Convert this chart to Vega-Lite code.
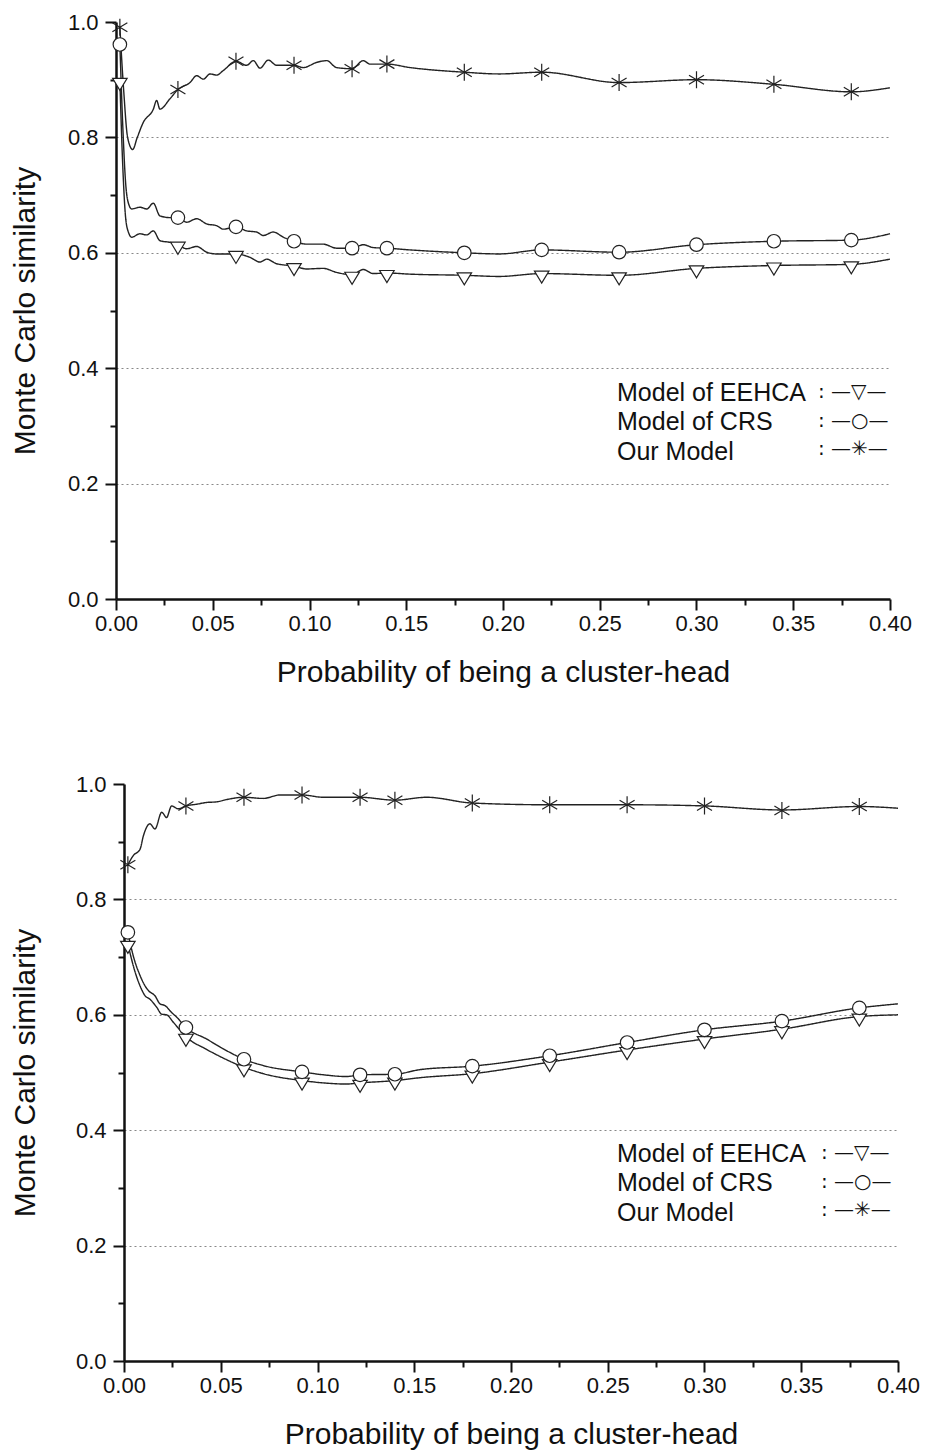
{
  "$schema": "https://vega.github.io/schema/vega-lite/v6.json",
  "background": "white",
  "padding": {"left": 10, "top": 11, "right": 5, "bottom": 3},
  "columns": 1,
  "spacing": 86,
  "config": {
    "view": {"stroke": null},
    "font": "Liberation Sans",
    "axis": {
      "labelFont": "Liberation Sans", "labelFontSize": 22, "labelColor": "#111",
      "titleFont": "Liberation Sans", "titleFontSize": 30, "titleFontWeight": "normal", "titleColor": "#111",
      "domainColor": "#111", "domainWidth": 2.5, "tickColor": "#111", "tickWidth": 2,
      "labelPadding": 4, "labelFlush": false, "labelOverlap": false
    },
    "legend": {
      "title": null, "orient": "none", "padding": 0,
      "labelFont": "Liberation Sans", "labelFontSize": 25, "labelColor": "#111", "labelLimit": 0,
      "symbolOffset": 0, "symbolSize": 100, "rowPadding": 3.5, "labelOffset": 0, "symbolOpacity": 0
    }
  },
  "resolve": {"scale": {"shape": "independent", "strokeDash": "independent"}, "legend": {"shape": "independent", "strokeDash": "independent"}},
  "datasets": {
    "curves": [
      {"panel":"top","model":"Model of EEHCA","p":0.002,"sim":0.898},
      {"panel":"top","model":"Model of EEHCA","p":0.0035,"sim":0.75},
      {"panel":"top","model":"Model of EEHCA","p":0.005,"sim":0.66},
      {"panel":"top","model":"Model of EEHCA","p":0.0065,"sim":0.635},
      {"panel":"top","model":"Model of EEHCA","p":0.0081,"sim":0.627},
      {"panel":"top","model":"Model of EEHCA","p":0.0124,"sim":0.633},
      {"panel":"top","model":"Model of EEHCA","p":0.0159,"sim":0.631},
      {"panel":"top","model":"Model of EEHCA","p":0.0193,"sim":0.638},
      {"panel":"top","model":"Model of EEHCA","p":0.0227,"sim":0.621},
      {"panel":"top","model":"Model of EEHCA","p":0.0279,"sim":0.618},
      {"panel":"top","model":"Model of EEHCA","p":0.032,"sim":0.614},
      {"panel":"top","model":"Model of EEHCA","p":0.0365,"sim":0.607},
      {"panel":"top","model":"Model of EEHCA","p":0.0417,"sim":0.611},
      {"panel":"top","model":"Model of EEHCA","p":0.0469,"sim":0.601},
      {"panel":"top","model":"Model of EEHCA","p":0.052,"sim":0.598},
      {"panel":"top","model":"Model of EEHCA","p":0.062,"sim":0.598},
      {"panel":"top","model":"Model of EEHCA","p":0.0693,"sim":0.592},
      {"panel":"top","model":"Model of EEHCA","p":0.0744,"sim":0.584},
      {"panel":"top","model":"Model of EEHCA","p":0.0779,"sim":0.589},
      {"panel":"top","model":"Model of EEHCA","p":0.083,"sim":0.581},
      {"panel":"top","model":"Model of EEHCA","p":0.092,"sim":0.577},
      {"panel":"top","model":"Model of EEHCA","p":0.0986,"sim":0.572},
      {"panel":"top","model":"Model of EEHCA","p":0.1071,"sim":0.573},
      {"panel":"top","model":"Model of EEHCA","p":0.114,"sim":0.566},
      {"panel":"top","model":"Model of EEHCA","p":0.122,"sim":0.562},
      {"panel":"top","model":"Model of EEHCA","p":0.1278,"sim":0.571},
      {"panel":"top","model":"Model of EEHCA","p":0.133,"sim":0.564},
      {"panel":"top","model":"Model of EEHCA","p":0.14,"sim":0.565},
      {"panel":"top","model":"Model of EEHCA","p":0.152,"sim":0.563},
      {"panel":"top","model":"Model of EEHCA","p":0.18,"sim":0.561},
      {"panel":"top","model":"Model of EEHCA","p":0.198,"sim":0.559},
      {"panel":"top","model":"Model of EEHCA","p":0.22,"sim":0.564},
      {"panel":"top","model":"Model of EEHCA","p":0.26,"sim":0.561},
      {"panel":"top","model":"Model of EEHCA","p":0.30,"sim":0.573},
      {"panel":"top","model":"Model of EEHCA","p":0.34,"sim":0.578},
      {"panel":"top","model":"Model of EEHCA","p":0.38,"sim":0.580},
      {"panel":"top","model":"Model of EEHCA","p":0.40,"sim":0.589},

      {"panel":"top","model":"Model of CRS","p":0.002,"sim":0.961},
      {"panel":"top","model":"Model of CRS","p":0.0035,"sim":0.82},
      {"panel":"top","model":"Model of CRS","p":0.005,"sim":0.72},
      {"panel":"top","model":"Model of CRS","p":0.0065,"sim":0.685},
      {"panel":"top","model":"Model of CRS","p":0.0081,"sim":0.676},
      {"panel":"top","model":"Model of CRS","p":0.0124,"sim":0.679},
      {"panel":"top","model":"Model of CRS","p":0.0159,"sim":0.676},
      {"panel":"top","model":"Model of CRS","p":0.0193,"sim":0.686},
      {"panel":"top","model":"Model of CRS","p":0.0227,"sim":0.664},
      {"panel":"top","model":"Model of CRS","p":0.0279,"sim":0.661},
      {"panel":"top","model":"Model of CRS","p":0.032,"sim":0.661},
      {"panel":"top","model":"Model of CRS","p":0.0365,"sim":0.653},
      {"panel":"top","model":"Model of CRS","p":0.0417,"sim":0.659},
      {"panel":"top","model":"Model of CRS","p":0.0469,"sim":0.650},
      {"panel":"top","model":"Model of CRS","p":0.052,"sim":0.647},
      {"panel":"top","model":"Model of CRS","p":0.0555,"sim":0.641},
      {"panel":"top","model":"Model of CRS","p":0.062,"sim":0.645},
      {"panel":"top","model":"Model of CRS","p":0.0675,"sim":0.638},
      {"panel":"top","model":"Model of CRS","p":0.0727,"sim":0.636},
      {"panel":"top","model":"Model of CRS","p":0.0761,"sim":0.630},
      {"panel":"top","model":"Model of CRS","p":0.0813,"sim":0.636},
      {"panel":"top","model":"Model of CRS","p":0.0865,"sim":0.627},
      {"panel":"top","model":"Model of CRS","p":0.092,"sim":0.620},
      {"panel":"top","model":"Model of CRS","p":0.0986,"sim":0.615},
      {"panel":"top","model":"Model of CRS","p":0.1071,"sim":0.615},
      {"panel":"top","model":"Model of CRS","p":0.114,"sim":0.608},
      {"panel":"top","model":"Model of CRS","p":0.122,"sim":0.608},
      {"panel":"top","model":"Model of CRS","p":0.1278,"sim":0.614},
      {"panel":"top","model":"Model of CRS","p":0.133,"sim":0.609},
      {"panel":"top","model":"Model of CRS","p":0.14,"sim":0.608},
      {"panel":"top","model":"Model of CRS","p":0.152,"sim":0.605},
      {"panel":"top","model":"Model of CRS","p":0.18,"sim":0.600},
      {"panel":"top","model":"Model of CRS","p":0.198,"sim":0.598},
      {"panel":"top","model":"Model of CRS","p":0.22,"sim":0.605},
      {"panel":"top","model":"Model of CRS","p":0.26,"sim":0.601},
      {"panel":"top","model":"Model of CRS","p":0.30,"sim":0.614},
      {"panel":"top","model":"Model of CRS","p":0.34,"sim":0.620},
      {"panel":"top","model":"Model of CRS","p":0.38,"sim":0.622},
      {"panel":"top","model":"Model of CRS","p":0.40,"sim":0.633},

      {"panel":"top","model":"Our Model","p":0.002,"sim":0.991},
      {"panel":"top","model":"Our Model","p":0.004,"sim":0.88},
      {"panel":"top","model":"Our Model","p":0.006,"sim":0.80},
      {"panel":"top","model":"Our Model","p":0.0086,"sim":0.779},
      {"panel":"top","model":"Our Model","p":0.011,"sim":0.800},
      {"panel":"top","model":"Our Model","p":0.0141,"sim":0.826},
      {"panel":"top","model":"Our Model","p":0.0193,"sim":0.849},
      {"panel":"top","model":"Our Model","p":0.021,"sim":0.864},
      {"panel":"top","model":"Our Model","p":0.0227,"sim":0.849},
      {"panel":"top","model":"Our Model","p":0.0279,"sim":0.867},
      {"panel":"top","model":"Our Model","p":0.032,"sim":0.883},
      {"panel":"top","model":"Our Model","p":0.0382,"sim":0.895},
      {"panel":"top","model":"Our Model","p":0.0417,"sim":0.907},
      {"panel":"top","model":"Our Model","p":0.0451,"sim":0.901},
      {"panel":"top","model":"Our Model","p":0.0486,"sim":0.910},
      {"panel":"top","model":"Our Model","p":0.052,"sim":0.908},
      {"panel":"top","model":"Our Model","p":0.0555,"sim":0.916},
      {"panel":"top","model":"Our Model","p":0.062,"sim":0.932},
      {"panel":"top","model":"Our Model","p":0.0675,"sim":0.925},
      {"panel":"top","model":"Our Model","p":0.071,"sim":0.933},
      {"panel":"top","model":"Our Model","p":0.0744,"sim":0.920},
      {"panel":"top","model":"Our Model","p":0.0787,"sim":0.934},
      {"panel":"top","model":"Our Model","p":0.083,"sim":0.925},
      {"panel":"top","model":"Our Model","p":0.092,"sim":0.925},
      {"panel":"top","model":"Our Model","p":0.0968,"sim":0.921},
      {"panel":"top","model":"Our Model","p":0.1037,"sim":0.930},
      {"panel":"top","model":"Our Model","p":0.1089,"sim":0.933},
      {"panel":"top","model":"Our Model","p":0.114,"sim":0.921},
      {"panel":"top","model":"Our Model","p":0.122,"sim":0.919},
      {"panel":"top","model":"Our Model","p":0.1278,"sim":0.933},
      {"panel":"top","model":"Our Model","p":0.1313,"sim":0.927},
      {"panel":"top","model":"Our Model","p":0.14,"sim":0.927},
      {"panel":"top","model":"Our Model","p":0.152,"sim":0.921},
      {"panel":"top","model":"Our Model","p":0.18,"sim":0.913},
      {"panel":"top","model":"Our Model","p":0.198,"sim":0.910},
      {"panel":"top","model":"Our Model","p":0.22,"sim":0.913},
      {"panel":"top","model":"Our Model","p":0.26,"sim":0.895},
      {"panel":"top","model":"Our Model","p":0.30,"sim":0.900},
      {"panel":"top","model":"Our Model","p":0.34,"sim":0.892},
      {"panel":"top","model":"Our Model","p":0.38,"sim":0.879},
      {"panel":"top","model":"Our Model","p":0.40,"sim":0.886},

      {"panel":"bottom","model":"Model of EEHCA","p":0.002,"sim":0.723},
      {"panel":"bottom","model":"Model of EEHCA","p":0.0048,"sim":0.685},
      {"panel":"bottom","model":"Model of EEHCA","p":0.0083,"sim":0.650},
      {"panel":"bottom","model":"Model of EEHCA","p":0.0109,"sim":0.633},
      {"panel":"bottom","model":"Model of EEHCA","p":0.0134,"sim":0.627},
      {"panel":"bottom","model":"Model of EEHCA","p":0.0169,"sim":0.613},
      {"panel":"bottom","model":"Model of EEHCA","p":0.0195,"sim":0.601},
      {"panel":"bottom","model":"Model of EEHCA","p":0.022,"sim":0.600},
      {"panel":"bottom","model":"Model of EEHCA","p":0.0255,"sim":0.587},
      {"panel":"bottom","model":"Model of EEHCA","p":0.032,"sim":0.562},
      {"panel":"bottom","model":"Model of EEHCA","p":0.0427,"sim":0.540},
      {"panel":"bottom","model":"Model of EEHCA","p":0.0513,"sim":0.525},
      {"panel":"bottom","model":"Model of EEHCA","p":0.062,"sim":0.509},
      {"panel":"bottom","model":"Model of EEHCA","p":0.072,"sim":0.498},
      {"panel":"bottom","model":"Model of EEHCA","p":0.092,"sim":0.486},
      {"panel":"bottom","model":"Model of EEHCA","p":0.103,"sim":0.482},
      {"panel":"bottom","model":"Model of EEHCA","p":0.115,"sim":0.480},
      {"panel":"bottom","model":"Model of EEHCA","p":0.122,"sim":0.482},
      {"panel":"bottom","model":"Model of EEHCA","p":0.14,"sim":0.486},
      {"panel":"bottom","model":"Model of EEHCA","p":0.153,"sim":0.491},
      {"panel":"bottom","model":"Model of EEHCA","p":0.18,"sim":0.498},
      {"panel":"bottom","model":"Model of EEHCA","p":0.22,"sim":0.518},
      {"panel":"bottom","model":"Model of EEHCA","p":0.26,"sim":0.539},
      {"panel":"bottom","model":"Model of EEHCA","p":0.30,"sim":0.558},
      {"panel":"bottom","model":"Model of EEHCA","p":0.34,"sim":0.575},
      {"panel":"bottom","model":"Model of EEHCA","p":0.38,"sim":0.597},
      {"panel":"bottom","model":"Model of EEHCA","p":0.40,"sim":0.600},

      {"panel":"bottom","model":"Model of CRS","p":0.002,"sim":0.743},
      {"panel":"bottom","model":"Model of CRS","p":0.0048,"sim":0.702},
      {"panel":"bottom","model":"Model of CRS","p":0.0083,"sim":0.668},
      {"panel":"bottom","model":"Model of CRS","p":0.0109,"sim":0.650},
      {"panel":"bottom","model":"Model of CRS","p":0.0126,"sim":0.642},
      {"panel":"bottom","model":"Model of CRS","p":0.016,"sim":0.633},
      {"panel":"bottom","model":"Model of CRS","p":0.0186,"sim":0.619},
      {"panel":"bottom","model":"Model of CRS","p":0.0212,"sim":0.616},
      {"panel":"bottom","model":"Model of CRS","p":0.0246,"sim":0.604},
      {"panel":"bottom","model":"Model of CRS","p":0.0272,"sim":0.596},
      {"panel":"bottom","model":"Model of CRS","p":0.032,"sim":0.578},
      {"panel":"bottom","model":"Model of CRS","p":0.0427,"sim":0.558},
      {"panel":"bottom","model":"Model of CRS","p":0.0513,"sim":0.541},
      {"panel":"bottom","model":"Model of CRS","p":0.062,"sim":0.523},
      {"panel":"bottom","model":"Model of CRS","p":0.072,"sim":0.512},
      {"panel":"bottom","model":"Model of CRS","p":0.092,"sim":0.501},
      {"panel":"bottom","model":"Model of CRS","p":0.103,"sim":0.496},
      {"panel":"bottom","model":"Model of CRS","p":0.115,"sim":0.493},
      {"panel":"bottom","model":"Model of CRS","p":0.122,"sim":0.496},
      {"panel":"bottom","model":"Model of CRS","p":0.14,"sim":0.497},
      {"panel":"bottom","model":"Model of CRS","p":0.153,"sim":0.505},
      {"panel":"bottom","model":"Model of CRS","p":0.18,"sim":0.511},
      {"panel":"bottom","model":"Model of CRS","p":0.22,"sim":0.529},
      {"panel":"bottom","model":"Model of CRS","p":0.26,"sim":0.552},
      {"panel":"bottom","model":"Model of CRS","p":0.30,"sim":0.574},
      {"panel":"bottom","model":"Model of CRS","p":0.34,"sim":0.589},
      {"panel":"bottom","model":"Model of CRS","p":0.38,"sim":0.612},
      {"panel":"bottom","model":"Model of CRS","p":0.40,"sim":0.619},

      {"panel":"bottom","model":"Our Model","p":0.002,"sim":0.860},
      {"panel":"bottom","model":"Our Model","p":0.0048,"sim":0.876},
      {"panel":"bottom","model":"Our Model","p":0.0083,"sim":0.887},
      {"panel":"bottom","model":"Our Model","p":0.010,"sim":0.910},
      {"panel":"bottom","model":"Our Model","p":0.0134,"sim":0.931},
      {"panel":"bottom","model":"Our Model","p":0.016,"sim":0.922},
      {"panel":"bottom","model":"Our Model","p":0.0195,"sim":0.951},
      {"panel":"bottom","model":"Our Model","p":0.022,"sim":0.942},
      {"panel":"bottom","model":"Our Model","p":0.0246,"sim":0.962},
      {"panel":"bottom","model":"Our Model","p":0.028,"sim":0.957},
      {"panel":"bottom","model":"Our Model","p":0.032,"sim":0.962},
      {"panel":"bottom","model":"Our Model","p":0.0376,"sim":0.965},
      {"panel":"bottom","model":"Our Model","p":0.0427,"sim":0.968},
      {"panel":"bottom","model":"Our Model","p":0.0479,"sim":0.969},
      {"panel":"bottom","model":"Our Model","p":0.053,"sim":0.973},
      {"panel":"bottom","model":"Our Model","p":0.062,"sim":0.977},
      {"panel":"bottom","model":"Our Model","p":0.072,"sim":0.975},
      {"panel":"bottom","model":"Our Model","p":0.0806,"sim":0.981},
      {"panel":"bottom","model":"Our Model","p":0.092,"sim":0.981},
      {"panel":"bottom","model":"Our Model","p":0.103,"sim":0.977},
      {"panel":"bottom","model":"Our Model","p":0.122,"sim":0.977},
      {"panel":"bottom","model":"Our Model","p":0.14,"sim":0.972},
      {"panel":"bottom","model":"Our Model","p":0.1564,"sim":0.977},
      {"panel":"bottom","model":"Our Model","p":0.18,"sim":0.967},
      {"panel":"bottom","model":"Our Model","p":0.22,"sim":0.964},
      {"panel":"bottom","model":"Our Model","p":0.26,"sim":0.964},
      {"panel":"bottom","model":"Our Model","p":0.30,"sim":0.962},
      {"panel":"bottom","model":"Our Model","p":0.34,"sim":0.955},
      {"panel":"bottom","model":"Our Model","p":0.38,"sim":0.961},
      {"panel":"bottom","model":"Our Model","p":0.40,"sim":0.958}
    ],
    "markers": [
      {"panel":"top","model":"Model of EEHCA","p":0.002,"sim":0.898},
      {"panel":"top","model":"Model of EEHCA","p":0.032,"sim":0.614},
      {"panel":"top","model":"Model of EEHCA","p":0.062,"sim":0.598},
      {"panel":"top","model":"Model of EEHCA","p":0.092,"sim":0.577},
      {"panel":"top","model":"Model of EEHCA","p":0.122,"sim":0.562},
      {"panel":"top","model":"Model of EEHCA","p":0.14,"sim":0.565},
      {"panel":"top","model":"Model of EEHCA","p":0.18,"sim":0.561},
      {"panel":"top","model":"Model of EEHCA","p":0.22,"sim":0.564},
      {"panel":"top","model":"Model of EEHCA","p":0.26,"sim":0.561},
      {"panel":"top","model":"Model of EEHCA","p":0.30,"sim":0.573},
      {"panel":"top","model":"Model of EEHCA","p":0.34,"sim":0.578},
      {"panel":"top","model":"Model of EEHCA","p":0.38,"sim":0.580},
      {"panel":"top","model":"Model of CRS","p":0.002,"sim":0.961},
      {"panel":"top","model":"Model of CRS","p":0.032,"sim":0.661},
      {"panel":"top","model":"Model of CRS","p":0.062,"sim":0.645},
      {"panel":"top","model":"Model of CRS","p":0.092,"sim":0.620},
      {"panel":"top","model":"Model of CRS","p":0.122,"sim":0.608},
      {"panel":"top","model":"Model of CRS","p":0.14,"sim":0.608},
      {"panel":"top","model":"Model of CRS","p":0.18,"sim":0.600},
      {"panel":"top","model":"Model of CRS","p":0.22,"sim":0.605},
      {"panel":"top","model":"Model of CRS","p":0.26,"sim":0.601},
      {"panel":"top","model":"Model of CRS","p":0.30,"sim":0.614},
      {"panel":"top","model":"Model of CRS","p":0.34,"sim":0.620},
      {"panel":"top","model":"Model of CRS","p":0.38,"sim":0.622},
      {"panel":"top","model":"Our Model","p":0.002,"sim":0.991},
      {"panel":"top","model":"Our Model","p":0.032,"sim":0.883},
      {"panel":"top","model":"Our Model","p":0.062,"sim":0.932},
      {"panel":"top","model":"Our Model","p":0.092,"sim":0.925},
      {"panel":"top","model":"Our Model","p":0.122,"sim":0.919},
      {"panel":"top","model":"Our Model","p":0.14,"sim":0.927},
      {"panel":"top","model":"Our Model","p":0.18,"sim":0.913},
      {"panel":"top","model":"Our Model","p":0.22,"sim":0.913},
      {"panel":"top","model":"Our Model","p":0.26,"sim":0.895},
      {"panel":"top","model":"Our Model","p":0.30,"sim":0.900},
      {"panel":"top","model":"Our Model","p":0.34,"sim":0.892},
      {"panel":"top","model":"Our Model","p":0.38,"sim":0.879},

      {"panel":"bottom","model":"Model of EEHCA","p":0.002,"sim":0.723},
      {"panel":"bottom","model":"Model of EEHCA","p":0.032,"sim":0.562},
      {"panel":"bottom","model":"Model of EEHCA","p":0.062,"sim":0.509},
      {"panel":"bottom","model":"Model of EEHCA","p":0.092,"sim":0.486},
      {"panel":"bottom","model":"Model of EEHCA","p":0.122,"sim":0.482},
      {"panel":"bottom","model":"Model of EEHCA","p":0.14,"sim":0.486},
      {"panel":"bottom","model":"Model of EEHCA","p":0.18,"sim":0.498},
      {"panel":"bottom","model":"Model of EEHCA","p":0.22,"sim":0.518},
      {"panel":"bottom","model":"Model of EEHCA","p":0.26,"sim":0.539},
      {"panel":"bottom","model":"Model of EEHCA","p":0.30,"sim":0.558},
      {"panel":"bottom","model":"Model of EEHCA","p":0.34,"sim":0.575},
      {"panel":"bottom","model":"Model of EEHCA","p":0.38,"sim":0.597},
      {"panel":"bottom","model":"Model of CRS","p":0.002,"sim":0.743},
      {"panel":"bottom","model":"Model of CRS","p":0.032,"sim":0.578},
      {"panel":"bottom","model":"Model of CRS","p":0.062,"sim":0.523},
      {"panel":"bottom","model":"Model of CRS","p":0.092,"sim":0.501},
      {"panel":"bottom","model":"Model of CRS","p":0.122,"sim":0.496},
      {"panel":"bottom","model":"Model of CRS","p":0.14,"sim":0.497},
      {"panel":"bottom","model":"Model of CRS","p":0.18,"sim":0.511},
      {"panel":"bottom","model":"Model of CRS","p":0.22,"sim":0.529},
      {"panel":"bottom","model":"Model of CRS","p":0.26,"sim":0.552},
      {"panel":"bottom","model":"Model of CRS","p":0.30,"sim":0.574},
      {"panel":"bottom","model":"Model of CRS","p":0.34,"sim":0.589},
      {"panel":"bottom","model":"Model of CRS","p":0.38,"sim":0.612},
      {"panel":"bottom","model":"Our Model","p":0.002,"sim":0.860},
      {"panel":"bottom","model":"Our Model","p":0.032,"sim":0.962},
      {"panel":"bottom","model":"Our Model","p":0.062,"sim":0.977},
      {"panel":"bottom","model":"Our Model","p":0.092,"sim":0.981},
      {"panel":"bottom","model":"Our Model","p":0.122,"sim":0.977},
      {"panel":"bottom","model":"Our Model","p":0.14,"sim":0.972},
      {"panel":"bottom","model":"Our Model","p":0.18,"sim":0.967},
      {"panel":"bottom","model":"Our Model","p":0.22,"sim":0.964},
      {"panel":"bottom","model":"Our Model","p":0.26,"sim":0.964},
      {"panel":"bottom","model":"Our Model","p":0.30,"sim":0.962},
      {"panel":"bottom","model":"Our Model","p":0.34,"sim":0.954},
      {"panel":"bottom","model":"Our Model","p":0.38,"sim":0.961}
    ]
  },
  "concat": [
    {
      "width": 774,
      "height": 577,
      "layer": [
        {
          "data": {"name": "curves"},
          "transform": [{"filter": "datum.panel === 'top'"}],
          "mark": {"type": "line", "interpolate": "monotone", "stroke": "#222", "strokeWidth": 1.4},
          "encoding": {
            "x": {"field": "p", "type": "quantitative", "scale": {"domain": [0, 0.4], "nice": false, "zero": false},
              "axis": {"title": "Probability of being a cluster-head", "format": ".2f", "grid": false,
                "values": [0,0.025,0.05,0.075,0.1,0.125,0.15,0.175,0.2,0.225,0.25,0.275,0.3,0.325,0.35,0.375,0.4],
                "labelExpr": "abs(datum.value*20 - round(datum.value*20)) < 0.001 ? datum.label : ''",
                "tickSize": {"condition": {"test": "abs(datum.value*20 - round(datum.value*20)) < 0.001", "value": 11}, "value": 6},
                "labelPadding": 3, "titlePadding": 23}},
            "y": {"field": "sim", "type": "quantitative", "scale": {"domain": [0, 1], "nice": false},
              "axis": {"title": "Monte Carlo similarity", "format": ".1f",
                "values": [0,0.1,0.2,0.3,0.4,0.5,0.6,0.7,0.8,0.9,1.0],
                "labelExpr": "abs(datum.value*5 - round(datum.value*5)) < 0.001 ? datum.label : ''",
                "tickSize": {"condition": {"test": "abs(datum.value*5 - round(datum.value*5)) < 0.001", "value": 11}, "value": 6},
                "grid": true, "gridColor": "#888", "gridDash": [2, 3], "gridWidth": 1,
                "gridOpacity": {"condition": {"test": "abs(datum.value*5 - round(datum.value*5)) < 0.001 && datum.value > 0.01 && datum.value < 0.99", "value": 1}, "value": 0},
                "labelPadding": 7, "titlePadding": 27}},
            "detail": {"field": "model"},
            "strokeDash": {"field": "model", "type": "nominal",
              "scale": {"domain": ["Our Model", "Model of CRS", "Model of EEHCA"], "range": [[1, 0], [1, 0], [1, 0]]},
              "legend": {"legendX": 682, "legendY": 360, "values": ["Model of EEHCA", "Model of CRS", "Our Model"],
                "labelFont": "DejaVu Sans", "labelFontSize": 20, "rowPadding": 8.5, "symbolOpacity": 0,
                "labelExpr": "datum.label === 'Model of EEHCA' ? ': —▽—' : datum.label === 'Model of CRS' ? ': —○—' : ': —✳—'"}}
          }
        },
        {
          "data": {"name": "markers"},
          "transform": [{"filter": "datum.panel === 'top'"}],
          "mark": {"type": "point", "fill": "white", "stroke": "#222", "strokeWidth": 1.2, "size": 100, "opacity": 1, "filled": false},
          "encoding": {
            "x": {"field": "p", "type": "quantitative"},
            "y": {"field": "sim", "type": "quantitative"},
            "shape": {"field": "model", "type": "nominal",
              "scale": {"domain": ["Model of EEHCA", "Model of CRS", "Our Model"],
                "range": ["M-1.45,-0.5L1.45,-0.5L0,1.9Z", "M-1.35,0A1.35,1.35,0,1,0,1.35,0A1.35,1.35,0,1,0,-1.35,0Z", "M0,-1.7L0,1.7M-1.5,-0.9L1.5,0.9M-1.5,0.9L1.5,-0.9"]},
              "legend": {"legendX": 476, "legendY": 358}
            }
          }
        }
      ]
    },
    {
      "width": 782,
      "height": 577,
      "layer": [
        {
          "data": {"name": "curves"},
          "transform": [{"filter": "datum.panel === 'bottom'"}],
          "mark": {"type": "line", "interpolate": "monotone", "stroke": "#222", "strokeWidth": 1.4},
          "encoding": {
            "x": {"field": "p", "type": "quantitative", "scale": {"domain": [0, 0.4], "nice": false, "zero": false, "range": [8, 782]},
              "axis": {"title": "Probability of being a cluster-head", "format": ".2f", "grid": false,
                "values": [0,0.025,0.05,0.075,0.1,0.125,0.15,0.175,0.2,0.225,0.25,0.275,0.3,0.325,0.35,0.375,0.4],
                "labelExpr": "abs(datum.value*20 - round(datum.value*20)) < 0.001 ? datum.label : ''",
                "tickSize": {"condition": {"test": "abs(datum.value*20 - round(datum.value*20)) < 0.001", "value": 11}, "value": 6},
                "labelPadding": 3, "titlePadding": 23}},
            "y": {"field": "sim", "type": "quantitative", "scale": {"domain": [0, 1], "nice": false},
              "axis": {"title": "Monte Carlo similarity", "format": ".1f", "offset": -8,
                "values": [0,0.1,0.2,0.3,0.4,0.5,0.6,0.7,0.8,0.9,1.0],
                "labelExpr": "abs(datum.value*5 - round(datum.value*5)) < 0.001 ? datum.label : ''",
                "tickSize": {"condition": {"test": "abs(datum.value*5 - round(datum.value*5)) < 0.001", "value": 11}, "value": 6},
                "grid": true, "gridColor": "#888", "gridDash": [2, 3], "gridWidth": 1,
                "gridOpacity": {"condition": {"test": "abs(datum.value*5 - round(datum.value*5)) < 0.001 && datum.value > 0.01 && datum.value < 0.99", "value": 1}, "value": 0},
                "labelPadding": 7, "titlePadding": 35}},
            "detail": {"field": "model"},
            "strokeDash": {"field": "model", "type": "nominal",
              "scale": {"domain": ["Our Model", "Model of CRS", "Model of EEHCA"], "range": [[1, 0], [1, 0], [1, 0]]},
              "legend": {"legendX": 685, "legendY": 359, "values": ["Model of EEHCA", "Model of CRS", "Our Model"],
                "labelFont": "DejaVu Sans", "labelFontSize": 20, "rowPadding": 8.5, "symbolOpacity": 0,
                "labelExpr": "datum.label === 'Model of EEHCA' ? ': —▽—' : datum.label === 'Model of CRS' ? ': —○—' : ': —✳—'"}}
          }
        },
        {
          "data": {"name": "markers"},
          "transform": [{"filter": "datum.panel === 'bottom'"}],
          "mark": {"type": "point", "fill": "white", "stroke": "#222", "strokeWidth": 1.2, "size": 100, "opacity": 1, "filled": false},
          "encoding": {
            "x": {"field": "p", "type": "quantitative"},
            "y": {"field": "sim", "type": "quantitative"},
            "shape": {"field": "model", "type": "nominal",
              "scale": {"domain": ["Model of EEHCA", "Model of CRS", "Our Model"],
                "range": ["M-1.45,-0.5L1.45,-0.5L0,1.9Z", "M-1.35,0A1.35,1.35,0,1,0,1.35,0A1.35,1.35,0,1,0,-1.35,0Z", "M0,-1.7L0,1.7M-1.5,-0.9L1.5,0.9M-1.5,0.9L1.5,-0.9"]},
              "legend": {"legendX": 476, "legendY": 357}
            }
          }
        }
      ]
    }
  ]
}
